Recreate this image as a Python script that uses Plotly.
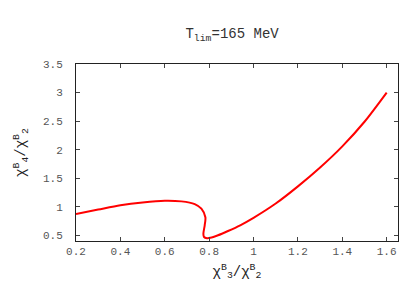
import plotly.graph_objects as go

x_vals = [0.2, 0.3, 0.4, 0.5, 0.6, 0.675, 0.735, 0.765, 0.783, 0.78, 0.774,
          0.777, 0.79, 0.805, 0.84, 0.885, 0.94, 1.0, 1.1, 1.2, 1.3, 1.4, 1.5, 1.6]
y_vals = [0.878, 0.955, 1.03, 1.08, 1.11, 1.098, 1.05, 0.97, 0.82, 0.68, 0.53,
          0.475, 0.455, 0.46, 0.505, 0.58, 0.68, 0.81, 1.06, 1.36, 1.69, 2.06, 2.49, 3.0]
x_ticks = [0.2, 0.4, 0.6, 0.8, 1.0, 1.2, 1.4, 1.6]
x_tick_labels = ["0.2", "0.4", "0.6", "0.8", "1", "1.2", "1.4", "1.6"]
y_ticks = [0.5, 1.0, 1.5, 2.0, 2.5, 3.0, 3.5]
y_tick_labels = ["0.5", "1", "1.5", "2", "2.5", "3", "3.5"]

mono = "Liberation Mono, Courier New, monospace"
fig = go.Figure()
fig.add_trace(go.Scatter(x=x_vals, y=y_vals, mode="lines",
                         line=dict(color="#ff0000", width=2, shape="spline", smoothing=0.8),
                         showlegend=False))

axis_common = dict(showline=True, linecolor="#222", linewidth=1, mirror="allticks",
                   ticks="inside", ticklen=4, tickcolor="#444", showgrid=False,
                   zeroline=False, automargin=False,
                   tickfont=dict(family=mono, size=11, color="#555"))
fig.update_layout(
    width=415, height=291,
    margin=dict(l=68, r=25, t=56, b=58),
    paper_bgcolor="white", plot_bgcolor="white",
    title=dict(text="T<sub>lim</sub>=165 MeV", x=0.54, xanchor="center", y=0.915, yanchor="middle",
               font=dict(family=mono, size=14, color="#333")),
    xaxis=dict(range=[0.2, 1.651], tickvals=x_ticks, ticktext=x_tick_labels,
               title=dict(text="χ<sup>B</sup><sub>3</sub>/χ<sup>B</sup><sub>2</sub>",
                          font=dict(family=mono, size=14, color="#222"), standoff=8),
               **axis_common),
    yaxis=dict(range=[0.405, 3.5], tickvals=y_ticks, ticktext=y_tick_labels,
               ticklabelstandoff=10,
               title=dict(text="χ<sup>B</sup><sub>4</sub>/χ<sup>B</sup><sub>2</sub>",
                          font=dict(family=mono, size=14, color="#222"), standoff=14),
               **axis_common),
)
fig.write_html("out.html")
